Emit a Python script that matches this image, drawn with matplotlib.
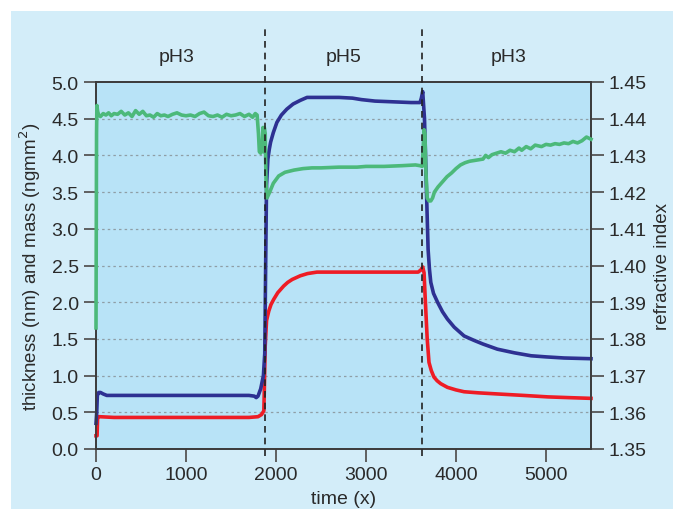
import matplotlib.pyplot as plt
from matplotlib.patches import Rectangle

plt.rcParams['font.family'] = ['Liberation Sans', 'DejaVu Sans']

# thickness (nm), left axis
blue_t = [0, 8, 15, 30, 50, 80, 120, 200, 600, 1000, 1400, 1700, 1760, 1780, 1800,
          1830, 1860, 1875, 1885, 1895, 1910, 1925, 1940, 1970, 2010, 2060, 2120, 2190,
          2270, 2345, 2500, 2700, 2850, 2950, 3100, 3300, 3500, 3600, 3615, 3630, 3650,
          3670, 3690, 3705, 3720, 3750, 3795, 3850, 3905, 3980, 4090, 4200, 4300, 4460,
          4650, 4835, 5000, 5200, 5500]
blue_v = [0.35, 0.5, 0.73, 0.77, 0.77, 0.75, 0.73, 0.73, 0.73, 0.73, 0.73, 0.73, 0.72,
          0.70, 0.72, 0.82, 1.0, 1.3, 2.5, 3.6, 3.95, 4.08, 4.18, 4.31, 4.45, 4.55, 4.63,
          4.70, 4.75, 4.79, 4.79, 4.79, 4.78, 4.76, 4.74, 4.73, 4.72, 4.72, 4.78, 4.87,
          4.5, 3.6, 2.72, 2.45, 2.27, 2.12, 2.0, 1.87, 1.77, 1.66, 1.54, 1.48, 1.43, 1.36,
          1.31, 1.27, 1.255, 1.24, 1.23]

# mass (ng/mm2), left axis
red_t = [0, 12, 18, 40, 200, 1000, 1700, 1800, 1840, 1865, 1870, 1880, 1895, 1920, 1945,
         1975, 2020, 2085, 2130, 2180, 2270, 2350, 2455, 2800, 3200, 3580, 3610, 3630,
         3645, 3660, 3680, 3700, 3725, 3755, 3790, 3830, 3905, 4000, 4090, 4250, 4460,
         4750, 5020, 5250, 5500]
red_v = [0.18, 0.18, 0.44, 0.44, 0.43, 0.43, 0.43, 0.44, 0.47, 0.52, 0.8, 1.4, 1.75, 1.88,
         1.97, 2.04, 2.13, 2.22, 2.27, 2.31, 2.36, 2.39, 2.41, 2.41, 2.41, 2.41, 2.44,
         2.48, 2.4, 2.0, 1.5, 1.18, 1.07, 0.98, 0.93, 0.89, 0.84, 0.805, 0.78, 0.765,
         0.75, 0.73, 0.71, 0.70, 0.69]

# refractive index, right axis
green_t = [0, 6, 10, 18, 30, 50, 80, 110, 140, 170, 200, 240, 280, 320, 360, 400, 440,
           480, 520, 560, 600, 640, 680, 720, 760, 800, 850, 900, 950, 1000, 1050, 1100,
           1150, 1200, 1250, 1300, 1350, 1400, 1450, 1500, 1550, 1600, 1650, 1700, 1740,
           1770, 1790, 1805, 1815, 1830, 1845, 1855, 1862, 1870, 1880, 1890, 1900, 1930,
           1970, 2030, 2100, 2200, 2300, 2400, 2500, 2700, 2900, 3000, 3200, 3400, 3550,
           3600, 3625, 3635, 3645, 3655, 3665, 3680, 3700, 3720, 3740, 3760, 3800, 3850,
           3900, 3950, 4000, 4050, 4100, 4150, 4200, 4250, 4300, 4330, 4360, 4400, 4450,
           4500, 4550, 4600, 4650, 4700, 4730, 4780, 4830, 4880, 4950, 5000, 5050, 5100,
           5150, 5200, 5250, 5300, 5350, 5400, 5450, 5500]
green_v = [1.383, 1.436, 1.4436, 1.442, 1.441, 1.4406, 1.4414, 1.441, 1.4416, 1.4408,
           1.4414, 1.4412, 1.442, 1.441, 1.4416, 1.4406, 1.4422, 1.4412, 1.442, 1.4408,
           1.441, 1.4404, 1.4414, 1.4408, 1.441, 1.4406, 1.4412, 1.4416, 1.441, 1.4408,
           1.441, 1.4406, 1.4414, 1.4418, 1.4408, 1.4406, 1.441, 1.4404, 1.4412, 1.4408,
           1.441, 1.4414, 1.4406, 1.4412, 1.4404, 1.4414, 1.441, 1.436, 1.431, 1.4306,
           1.432, 1.4376, 1.431, 1.4376, 1.436, 1.422, 1.4184, 1.42, 1.4224, 1.4244,
           1.4254, 1.426, 1.4264, 1.4266, 1.4266, 1.4268, 1.4268, 1.427, 1.427, 1.4272,
           1.4274, 1.4272, 1.427, 1.432, 1.437, 1.436, 1.426, 1.4184, 1.4176, 1.4176,
           1.4184, 1.42, 1.4214, 1.4228, 1.4242, 1.4252, 1.4264, 1.4274, 1.428, 1.4284,
           1.4286, 1.4288, 1.429, 1.43, 1.4294, 1.4302, 1.4306, 1.431, 1.4306, 1.4314,
           1.431, 1.432, 1.4314, 1.4324, 1.4318, 1.4328, 1.4324, 1.433, 1.4328, 1.4332,
           1.433, 1.4334, 1.4332, 1.4338, 1.4334, 1.434, 1.435, 1.4344]

switch_t = [1874, 3619]
phases = ['pH3', 'pH5', 'pH3']
phase_x = [900, 2750, 4590]

fig = plt.figure(figsize=(6.73, 5.10), dpi=100, facecolor='white')
fig.patches.append(Rectangle((11 / 673, 0), 1, (510 - 12) / 510, transform=fig.transFigure,
                             facecolor='#d3edf9', edgecolor='none', zorder=-10))

ax = fig.add_axes([96 / 673, 60 / 510, 495 / 673, 367 / 510])
ax.set_facecolor('#b8e3f7')
ax2 = ax.twinx()

ax.set_xlim(0, 5500)
ax.set_ylim(0, 5)
ax2.set_ylim(1.35, 1.45)
ax.set_xticks([0, 1000, 2000, 3000, 4000, 5000])
ax.set_yticks([0, 0.5, 1, 1.5, 2, 2.5, 3, 3.5, 4, 4.5, 5])
ax.set_yticklabels(['%.1f' % v for v in ax.get_yticks()])
ax2.set_yticks([1.35, 1.36, 1.37, 1.38, 1.39, 1.40, 1.41, 1.42, 1.43, 1.44, 1.45])
ax2.set_yticklabels(['%.2f' % v for v in ax2.get_yticks()])

for y in [0.5, 1, 1.5, 2, 2.5, 3, 3.5, 4, 4.5]:
    ax.axhline(y, color='#8f9ea6', lw=0.9, ls=(0, (2, 2.5)), zorder=1)

for a in (ax, ax2):
    for s in a.spines.values():
        s.set_color('#3a3a3a')
        s.set_linewidth(1.2)
    a.tick_params(length=9, width=1.3, color='#555555', labelsize=14, labelcolor='#2a2a2a')

ax.plot(red_t, red_v, color='#ee1c25', lw=2.6, zorder=3, clip_on=False)
ax.plot(blue_t, blue_v, color='#2e3192', lw=2.6, zorder=4, clip_on=False)
ax2.plot(green_t, green_v, color='#4cb97a', lw=2.6, zorder=3, clip_on=False)

for t in switch_t:
    ax2.axvline(t, ymin=-0.02, ymax=1.153, color='#222222', lw=1.2, ls=(0, (4, 3)),
                clip_on=False, zorder=5)

for x, lab in zip(phase_x, phases):
    ax.text(x, 1.07, lab, transform=ax.get_xaxis_transform(), ha='center', va='center',
            fontsize=14, color='#2a2a2a')

ax.set_xlabel('time (x)', fontsize=14, color='#2a2a2a', labelpad=5)
ax.set_ylabel('thickness (nm) and mass (ngmm$^2$)', fontsize=13.5, color='#2a2a2a', labelpad=6)
ax2.set_ylabel('refractive index', fontsize=13.5, color='#2a2a2a', labelpad=5)

fig.savefig('out.png', dpi=100, facecolor=fig.get_facecolor())
